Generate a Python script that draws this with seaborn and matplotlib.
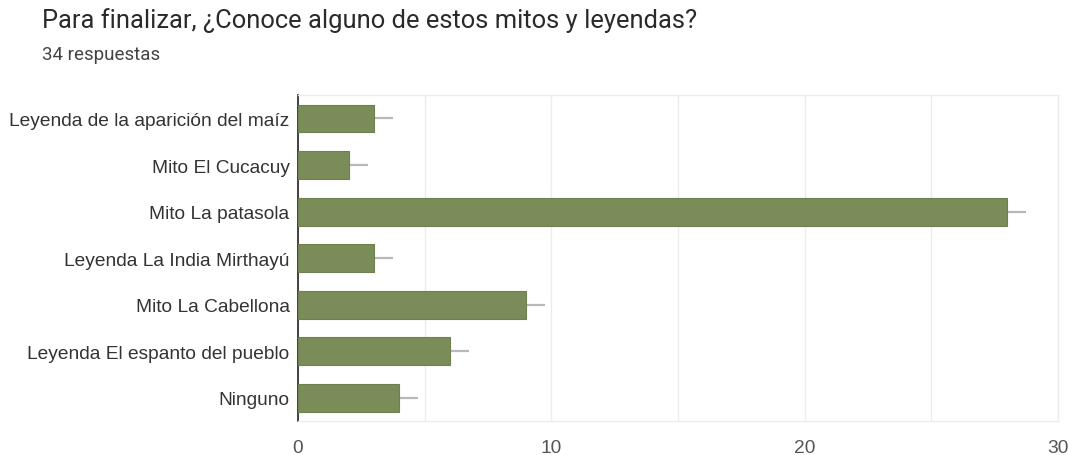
import matplotlib
matplotlib.use("Agg")
import matplotlib.pyplot as plt
import seaborn as sns
import pandas as pd

categories = [
    "Leyenda de la aparición del maíz",
    "Mito El Cucacuy",
    "Mito La patasola",
    "Leyenda La India Mirthayú",
    "Mito La Cabellona",
    "Leyenda El espanto del pueblo",
    "Ninguno",
]
counts = [3, 2, 28, 3, 9, 6, 4]
x_ticks = [0, 10, 20, 30]

df = pd.DataFrame({"opcion": categories, "respuestas": counts})

sns.set_theme(style="white")
plt.rcParams["font.family"] = ["Liberation Sans", "DejaVu Sans"]

fig = plt.figure(figsize=(10.69, 4.56), dpi=100)
ax = fig.add_axes([0.2787, 0.0746, 0.7110, 0.7144])

bar_color = "#7a8c58"
sns.barplot(data=df, x="respuestas", y="opcion", color=bar_color,
            width=0.6, saturation=1, ax=ax, zorder=3,
            edgecolor="#6e804e", linewidth=0.8)

# short grey leader line at the end of each bar
for i, v in enumerate(counts):
    ax.plot([v, v + 0.75], [i, i], color="#b8b8b8", lw=1.6, zorder=2,
            solid_capstyle="butt")

ax.set_xlim(0, 30)
ax.set_ylim(len(categories) - 0.5, -0.5)
ax.set_xticks(x_ticks)
ax.set_xticks([5, 15, 25], minor=True)
ax.grid(axis="x", which="both", color="#ececec", lw=1, zorder=0)
ax.set_xlabel("")
ax.set_ylabel("")
ax.tick_params(axis="both", length=0, labelsize=13.8, colors="#333333")
ax.tick_params(axis="x", pad=13, colors="#555555")
ax.tick_params(axis="y", pad=6)

for side in ["top", "right", "bottom"]:
    ax.spines[side].set_color("#ececec")
    ax.spines[side].set_linewidth(1)
ax.spines["left"].set_color("#333333")
ax.spines["left"].set_linewidth(1.3)

fig.text(0.039, 0.955, "Para finalizar, ¿Conoce alguno de estos mitos y leyendas?",
         fontsize=18.4, color="#2a2a2a", va="center", ha="left",
         family=["Roboto", "DejaVu Sans"])
fig.text(0.039, 0.880, "34 respuestas", fontsize=13.5, color="#444444",
         va="center", ha="left", family=["Roboto", "DejaVu Sans"])

fig.savefig("out.png", dpi=100)
